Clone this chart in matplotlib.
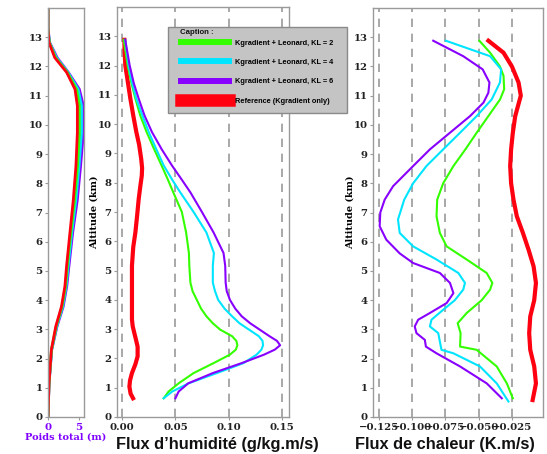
import numpy as np
import matplotlib
matplotlib.use("Agg")
import matplotlib.pyplot as plt
from matplotlib.lines import Line2D
from matplotlib.patches import Rectangle

# ---------------- data ----------------
# Left panel: Poids total (m)
alt_w = [0.0, 1.15, 2.3, 3.1, 3.78, 4.47, 5.16, 6.3, 7.44, 8.59, 9.73, 10.65, 11.22, 11.8, 12.3, 12.82, 13.28, 14.0]
w_ref = [0.0, 0.16, 0.54, 1.25, 2.17, 2.72, 2.99, 3.53, 4.08, 4.50, 4.73, 4.73, 4.35, 2.99, 1.09, 0.16, 0.0, 0.0]
w_kl2 = [0.0, 0.16, 0.56, 1.32, 2.26, 2.82, 3.11, 3.67, 4.28, 4.75, 5.05, 5.05, 4.60, 3.10, 1.22, 0.20, 0.0, 0.0]
w_kl4 = [0.0, 0.16, 0.58, 1.38, 2.36, 2.92, 3.24, 3.82, 4.50, 5.00, 5.40, 5.40, 4.85, 3.18, 1.35, 0.23, 0.0, 0.0]
w_kl6 = [0.0, 0.17, 0.60, 1.45, 2.45, 3.02, 3.37, 3.97, 4.73, 5.25, 5.70, 5.70, 5.05, 3.26, 1.47, 0.27, 0.0, 0.0]

# Middle panel: Flux d'humidite
alt_q_ref = [0.64, 0.8, 1.04, 1.25, 1.5, 1.8, 2.07, 2.4, 2.65, 2.87, 3.1, 3.33, 4.0, 5.16, 5.8, 6.3, 6.9, 7.44, 7.9, 8.24, 8.5, 8.8, 9.3, 9.73, 10.3, 10.87, 11.5, 12.0, 12.5, 12.88]
q_ref = [0.0103, 0.0080, 0.0069, 0.0075, 0.0093, 0.0125, 0.0146, 0.0146, 0.0130, 0.0115, 0.0100, 0.0093, 0.0093, 0.0093, 0.0105, 0.0125, 0.0142, 0.0156, 0.0172, 0.0185, 0.0188, 0.0180, 0.0160, 0.0134, 0.0105, 0.0078, 0.0052, 0.0031, 0.0024, 0.0022]

alt_q = [0.64, 0.87, 1.15, 1.5, 1.84, 2.13, 2.3, 2.45, 2.6, 2.76, 2.98, 3.2, 3.44, 3.7, 4.0, 4.3, 4.59, 5.16, 5.6, 6.3, 7.0, 7.67, 8.1, 8.59, 9.15, 9.73, 10.3, 10.87, 11.4, 12.0, 12.88]
q_kl2 = [0.039, 0.0436, 0.053, 0.067, 0.0857, 0.101, 0.1065, 0.108, 0.107, 0.103, 0.092, 0.085, 0.079, 0.074, 0.070, 0.066, 0.064, 0.063, 0.0626, 0.060, 0.056, 0.048, 0.043, 0.037, 0.030, 0.023, 0.017, 0.0125, 0.0088, 0.0053, 0.0016]
q_kl4 = [0.039, 0.047, 0.0623, 0.0888, 0.1137, 0.126, 0.1305, 0.132, 0.1315, 0.128, 0.119, 0.110, 0.103, 0.096, 0.090, 0.087, 0.085, 0.085, 0.086, 0.079, 0.067, 0.0545, 0.047, 0.039, 0.032, 0.025, 0.019, 0.0134, 0.0095, 0.0062, 0.003]
q_kl6 = [0.050, 0.053, 0.062, 0.085, 0.112, 0.133, 0.143, 0.148, 0.145, 0.138, 0.129, 0.120, 0.112, 0.106, 0.101, 0.098, 0.097, 0.0966, 0.095, 0.0857, 0.0748, 0.064, 0.056, 0.0467, 0.037, 0.028, 0.021, 0.0156, 0.011, 0.0072, 0.003]

# Right panel: Flux de chaleur
alt_t_ref = [0.58, 1.15, 1.73, 2.3, 2.87, 3.44, 4.0, 4.59, 5.16, 5.73, 6.3, 6.87, 7.44, 8.0, 8.59, 9.16, 9.73, 10.3, 11.0, 11.45, 12.0, 12.47, 12.88]
t_ref = [-0.0094, -0.0069, -0.0082, -0.0112, -0.0120, -0.0112, -0.0082, -0.0069, -0.0087, -0.0125, -0.0167, -0.0213, -0.0238, -0.0256, -0.0263, -0.0256, -0.0243, -0.0225, -0.0183, -0.0200, -0.0250, -0.0313, -0.0427]

alt_t2 = [0.64, 1.15, 1.73, 2.3, 2.41, 2.87, 3.21, 3.56, 4.0, 4.36, 4.59, 4.93, 5.39, 5.84, 6.3, 6.87, 7.44, 8.0, 8.59, 9.16, 9.73, 10.3, 10.87, 11.22, 11.68, 12.0, 12.47, 12.88]
t_kl2 = [-0.0243, -0.0288, -0.0364, -0.0515, -0.0640, -0.0636, -0.0658, -0.0590, -0.0477, -0.0414, -0.0397, -0.0440, -0.0590, -0.0741, -0.0792, -0.0817, -0.0812, -0.0767, -0.0690, -0.0600, -0.0515, -0.0427, -0.0339, -0.0308, -0.0313, -0.0340, -0.0414, -0.0495]

alt_t4 = [0.53, 1.15, 1.73, 2.18, 2.3, 2.87, 3.1, 3.33, 3.67, 4.0, 4.36, 4.59, 4.93, 5.39, 5.84, 6.3, 6.76, 7.44, 8.0, 8.59, 9.16, 9.73, 10.3, 10.87, 11.45, 11.9, 12.35, 12.88]
t_kl4 = [-0.0276, -0.0364, -0.0490, -0.0690, -0.0780, -0.0804, -0.0867, -0.0855, -0.0767, -0.0679, -0.0616, -0.0603, -0.0653, -0.0817, -0.0993, -0.1094, -0.1107, -0.1060, -0.0993, -0.0893, -0.0767, -0.0640, -0.0515, -0.0402, -0.0340, -0.0331, -0.0414, -0.0747]

alt_t6 = [0.64, 1.15, 1.73, 2.18, 2.41, 2.64, 2.87, 3.1, 3.33, 3.56, 3.9, 4.24, 4.59, 4.93, 5.27, 5.6, 6.07, 6.53, 7.0, 7.44, 7.9, 8.59, 9.16, 9.73, 10.3, 10.76, 11.1, 11.45, 11.9, 12.35, 12.88]
t_kl6 = [-0.0326, -0.0439, -0.0640, -0.0817, -0.0897, -0.0905, -0.0968, -0.0981, -0.0955, -0.0867, -0.0741, -0.0690, -0.0716, -0.0792, -0.0993, -0.1094, -0.1195, -0.1245, -0.1240, -0.1207, -0.1144, -0.0993, -0.0867, -0.0716, -0.0565, -0.0464, -0.0427, -0.0419, -0.0470, -0.0616, -0.0842]

labels = ["Kgradient + Leonard, KL = 2", "Kgradient + Leonard, KL = 4",
          "Kgradient + Leonard, KL = 6", "Reference (Kgradient only)"]
yticks = list(range(0, 14))
q_ticks = [0.00, 0.05, 0.10, 0.15]
t_ticks = [-0.125, -0.100, -0.075, -0.050, -0.025]

# ---------------- style ----------------
C2, C4, C6, CR = "#33ff00", "#00e5ff", "#8800ff", "#ff0010"
serif = "DejaVu Serif"
W, H = 547, 454
fig = plt.figure(figsize=(W / 100, H / 100), dpi=100)
fig.patch.set_facecolor("white")

def ax_at(x0, x1, ytop, ybot):
    return fig.add_axes([x0 / W, (H - ybot) / H, (x1 - x0) / W, (ybot - ytop) / H])

def style(ax):
    for s in ax.spines.values():
        s.set_color("#9a9a9a")
        s.set_linewidth(1.0)
    ax.tick_params(colors="#9a9a9a", length=2.5, width=0.8, pad=1.5)
    ax.set_ylim(0, 14)
    ax.set_yticks(yticks)
    for lab in ax.get_yticklabels() + ax.get_xticklabels():
        lab.set_fontfamily(serif)
        lab.set_fontweight("bold")
        lab.set_fontsize(7.3)
        lab.set_color("#222222")

# Left panel
axL = ax_at(48, 84, 8, 417)
axL.plot(w_kl6, alt_w, color=C6, lw=2.0)
axL.plot(w_kl4, alt_w, color=C4, lw=2.0)
axL.plot(w_kl2, alt_w, color=C2, lw=2.0)
axL.plot(w_ref, alt_w, color=CR, lw=2.0)
axL.set_xlim(0, 5.8)
axL.set_xticks([0, 5])
style(axL)
for lab in axL.get_xticklabels():
    lab.set_color("#7f00ff")
axL.set_xlabel("Poids total (m)", fontfamily=serif, fontweight="bold",
               fontsize=7, color="#7f00ff", labelpad=1)

# Middle panel
axM = ax_at(117, 289, 7, 417)
for v in q_ticks:
    axM.axvline(v, color="#999999", ls=(0, (5, 4)), lw=1.2, zorder=0)
axM.plot(q_ref, alt_q_ref, color=CR, lw=3)
axM.plot(q_kl2, alt_q, color=C2, lw=1.5)
axM.plot(q_kl4, alt_q, color=C4, lw=1.5)
axM.plot(q_kl6, alt_q, color=C6, lw=1.5)
axM.set_xlim(-0.0047, 0.1563)
axM.set_xticks(q_ticks)
axM.set_xticklabels(["0.00", "0.05", "0.10", "0.15"])
style(axM)
axM.set_ylabel("Altitude (km)", fontfamily=serif, fontweight="bold", fontsize=7, labelpad=-1)

# Right panel
axR = ax_at(373, 543, 8, 417)
for v in t_ticks:
    axR.axvline(v, color="#999999", ls=(0, (5, 4)), lw=1.2, zorder=0)
axR.plot(t_ref, alt_t_ref, color=CR, lw=3)
axR.plot(t_kl2, alt_t2, color=C2, lw=1.5)
axR.plot(t_kl4, alt_t4, color=C4, lw=1.5)
axR.plot(t_kl6, alt_t6, color=C6, lw=1.5)
axR.set_xlim(-0.1295, -0.0016)
axR.set_xticks(t_ticks)
axR.set_xticklabels(["\u22120.125", "\u22120.100", "\u22120.075", "\u22120.050", "\u22120.025"])
style(axR)
axR.set_ylabel("Altitude (km)", fontfamily=serif, fontweight="bold", fontsize=7, labelpad=-1)

# Bottom titles
fig.text(217.5 / W, (H - 445) / H, "Flux d\u2019humidit\u00e9 (g/kg.m/s)", ha="center", va="center",
         fontfamily="Liberation Sans", fontweight="bold", fontsize=11.8, color="#111111")
fig.text(444.5 / W, (H - 445) / H, "Flux de chaleur (K.m/s)", ha="center", va="center",
         fontfamily="Liberation Sans", fontweight="bold", fontsize=11.8, color="#111111")

# Caption legend (box drawn separately to match its size)
box = Rectangle((168 / W, (H - 113) / H), (347 - 168) / W, (113 - 27) / H,
                transform=fig.transFigure, facecolor="#c4c4c4", edgecolor="#8a8a8a",
                lw=1.0, zorder=4)
fig.add_artist(box)
fig.text(180 / W, (H - 33) / H, "Caption :", ha="left", va="center", zorder=6,
         fontfamily="Liberation Sans", fontweight="bold", fontsize=5.6, color="#111111")
handles = [Line2D([], [], color=C2, lw=4.3), Line2D([], [], color=C4, lw=4.3),
           Line2D([], [], color=C6, lw=4.3), Line2D([], [], color=CR, lw=9)]
leg = fig.legend(handles, labels, loc="upper left",
                 bbox_to_anchor=(181 / W, (H - 39.5) / H), frameon=False,
                 prop={"family": "Liberation Sans", "weight": "bold", "size": 5.3},
                 handlelength=6.5, labelspacing=1.66, borderpad=0, handletextpad=0.9,
                 borderaxespad=0)
leg.set_zorder(5)

fig.savefig("out.png", dpi=100)
